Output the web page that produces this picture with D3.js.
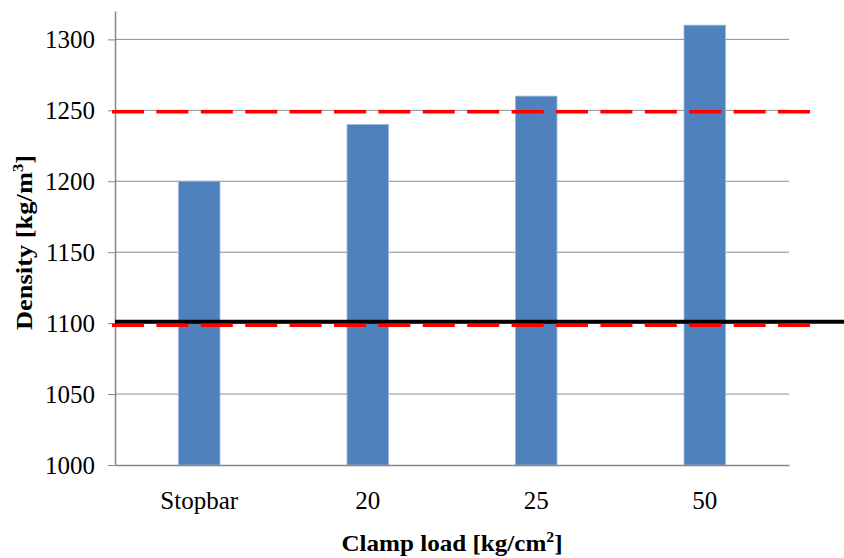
<!DOCTYPE html>
<html><head><meta charset="utf-8">
<script src="https://cdn.jsdelivr.net/npm/d3@7"></script>
<style>body{margin:0;background:#fff}svg{display:block}</style>
</head><body>
<script>
const categories = ["Stopbar", "20", "25", "50"];
const densities = [1200, 1240, 1260, 1310];
const yTicks = [1000, 1050, 1100, 1150, 1200, 1250, 1300];
const redLimits = [1249, 1098.5];
const blackRef = [1101];

const W = 844, H = 558;
const m = {left: 115, right: 789, top: 11, bottom: 465};
const svg = d3.select("body").append("svg").attr("width", W).attr("height", H);

const x = d3.scaleBand().domain(categories).range([m.left, m.right]).paddingInner(0.754).paddingOuter(0.377);
const y = d3.scaleLinear().domain([1000, 1320]).range([m.bottom, m.top]);
const font = "Liberation Serif";

// gridlines
svg.append("g").selectAll("line").data(yTicks.filter(d => d > 1000)).join("line")
  .attr("x1", m.left).attr("x2", m.right)
  .attr("y1", d => y(d)).attr("y2", d => y(d))
  .attr("stroke", "#8c8c8c").attr("stroke-width", 1);

// y axis
const yAxis = d3.axisLeft(y).tickValues(yTicks).tickFormat(d3.format("d")).tickSize(7).tickPadding(13).tickSizeOuter(0);
const gy = svg.append("g").attr("transform", `translate(${m.left},0)`).call(yAxis);
gy.attr("font-family", null).attr("font-size", null);
gy.select(".domain").attr("stroke", "#868686").attr("stroke-width", 1.5);
gy.selectAll(".tick line").attr("stroke", "#868686");
gy.selectAll(".tick text").style("font-family", font).style("font-size", "25px").attr("fill", "#000").attr("dy", "0.34em");

// bars
svg.append("g").selectAll("rect").data(densities).join("rect")
  .attr("x", (d, i) => x(categories[i]))
  .attr("width", x.bandwidth())
  .attr("y", d => y(d))
  .attr("height", d => y(1000) - y(d))
  .attr("fill", "#4f81bd").attr("stroke", "#9db6dc").attr("stroke-width", 0.8);

// x axis
const xAxis = d3.axisBottom(x).tickSize(0).tickPadding(26);
const gx = svg.append("g").attr("transform", `translate(0,${y(1000)})`).call(xAxis);
gx.attr("font-family", null).attr("font-size", null);
gx.select(".domain").attr("stroke", "#868686").attr("stroke-width", 1.5);
gx.selectAll(".tick text").style("font-family", font).style("font-size", "25px").attr("fill", "#000");

// black reference line
svg.append("g").selectAll("line").data(blackRef).join("line")
  .attr("x1", m.left).attr("x2", W)
  .attr("y1", d => y(d)).attr("y2", d => y(d))
  .attr("stroke", "#000").attr("stroke-width", 4);

// red dashed limit lines
svg.append("g").selectAll("line").data(redLimits).join("line")
  .attr("x1", 112).attr("x2", 812)
  .attr("y1", d => y(d)).attr("y2", d => y(d))
  .attr("stroke", "#ff0000").attr("stroke-width", 3.5)
  .attr("stroke-dasharray", "32,12.4");

// axis titles
const xt = svg.append("text").attr("x", (m.left + m.right) / 2).attr("y", 551)
  .attr("text-anchor", "middle").style("font-family", font).style("font-size", "24px").style("font-weight", "bold")
  .attr("textLength", 221).attr("lengthAdjust", "spacingAndGlyphs");
xt.append("tspan").text("Clamp load [kg/cm");
xt.append("tspan").text("2").style("font-size", "15px").attr("dy", -9);
xt.append("tspan").text("]").attr("dy", 9);

const yt = svg.append("text").attr("transform", `translate(32,242.5) rotate(-90)`)
  .attr("text-anchor", "middle").style("font-family", font).style("font-size", "24px").style("font-weight", "bold")
  .attr("textLength", 175).attr("lengthAdjust", "spacingAndGlyphs");
yt.append("tspan").text("Density [kg/m");
yt.append("tspan").text("3").style("font-size", "15px").attr("dy", -9);
yt.append("tspan").text("]").attr("dy", 9);
</script>
</body></html>
